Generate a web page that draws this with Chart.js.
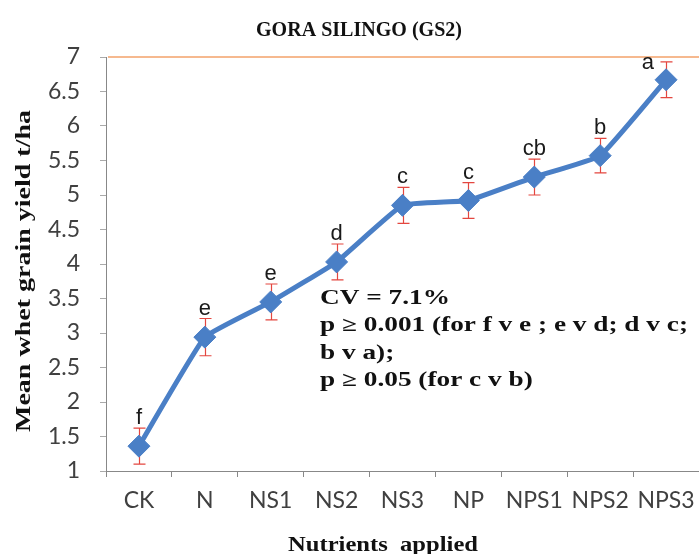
<!DOCTYPE html>
<html>
<head>
<meta charset="utf-8">
<script src="https://cdn.jsdelivr.net/npm/chart.js@4/dist/chart.umd.min.js"></script>
<style>
html,body{margin:0;padding:0;background:#fff;}
#wrap{width:699px;height:554px;position:relative;}
</style>
</head>
<body>
<div id="wrap"><canvas id="c" width="699" height="554"></canvas></div>
<script>
const categories = ['CK','N','NS1','NS2','NS3','NP','NPS1','NPS2','NPS3'];
const meanYield = [1.36, 2.94, 3.45, 4.03, 4.85, 4.92, 5.26, 5.57, 6.67];
const errHalf = [0.26, 0.27, 0.26, 0.26, 0.26, 0.26, 0.26, 0.25, 0.26];
const groupLetters = ['f','e','e','d','c','c','cb','b','a'];
const yMin = 1, yMax = 7, yStep = 0.5;
const chartTitle = 'GORA SILINGO (GS2)';
const xTitle = 'Nutrients  applied';
const yTitle = 'Mean whet grain yield t/ha';
const noteLines = ['CV = 7.1%', 'p \u2265 0.001 (for f v e ; e v d; d v c;', 'b v a);', 'p \u2265 0.05 (for c v b)'];

const serif = '"Liberation Serif", "Times New Roman", serif';
const sans = 'Lato, "Open Sans", sans-serif';
const letterFont = '"Liberation Sans", Arial, sans-serif';

function fitText(ctx, text, x, y, targetWidth) {
  const w = ctx.measureText(text).width;
  const s = targetWidth / w;
  ctx.save();
  ctx.translate(x, y);
  ctx.scale(s, 1);
  ctx.fillText(text, 0, 0);
  ctx.restore();
  return s;
}

const overlay = {
  id: 'overlay',
  beforeDatasetsDraw(chart) {
    const ctx = chart.ctx;
    const a = chart.chartArea;
    const xs = chart.scales.x, ys = chart.scales.y;
    ctx.save();
    ctx.strokeStyle = '#f6b98f';
    ctx.lineWidth = 2;
    const y = ys.getPixelForValue(yMax);
    ctx.beginPath();
    ctx.moveTo(a.left + 2, y); ctx.lineTo(a.right, y);
    ctx.stroke();
    // error bars (under the markers)
    ctx.strokeStyle = '#e4463f';
    ctx.lineWidth = 1.2;
    meanYield.forEach((v, i) => {
      const x = Math.round(xs.getPixelForValue(i)) + 0.5;
      const yt = ys.getPixelForValue(v + errHalf[i]);
      const yb = ys.getPixelForValue(v - errHalf[i]);
      ctx.beginPath();
      ctx.moveTo(x, yt); ctx.lineTo(x, yb);
      ctx.moveTo(x - 6, yt); ctx.lineTo(x + 6, yt);
      ctx.moveTo(x - 6, yb); ctx.lineTo(x + 6, yb);
      ctx.stroke();
    });
    ctx.restore();
  },
  afterDatasetsDraw(chart) {
    const ctx = chart.ctx;
    const xs = chart.scales.x, ys = chart.scales.y;
    ctx.save();
    // letters
    ctx.fillStyle = '#1a1a1a';
    ctx.font = '22px ' + letterFont;
    ctx.textBaseline = 'alphabetic';
    meanYield.forEach((v, i) => {
      const x = xs.getPixelForValue(i);
      const yt = ys.getPixelForValue(v + errHalf[i]);
      if (i === meanYield.length - 1) {
        ctx.textAlign = 'right';
        ctx.fillText(groupLetters[i], x - 12, yt + 7);
      } else {
        ctx.textAlign = 'center';
        ctx.fillText(groupLetters[i], x, yt - 4);
      }
    });
    // annotation
    ctx.font = 'bold 20px ' + serif;
    ctx.textAlign = 'left';
    ctx.fillStyle = '#111';
    const sc = 368 / ctx.measureText(noteLines[1]).width;
    noteLines.forEach((t, k) => {
      ctx.save();
      ctx.translate(320, 304 + k * 27.3);
      ctx.scale(sc, 1);
      ctx.fillText(t, 0, 0);
      ctx.restore();
    });
    // titles
    ctx.font = 'bold 20.5px ' + serif;
    ctx.textAlign = 'left';
    fitText(ctx, chartTitle, 256, 36, 206);
    ctx.font = 'bold 22px ' + serif;
    fitText(ctx, xTitle, 288, 551, 190);
    ctx.translate(30, 432);
    ctx.rotate(-Math.PI / 2);
    ctx.font = 'bold 21px ' + serif;
    fitText(ctx, yTitle, 0, 0, 322);
    ctx.restore();
  }
};

new Chart(document.getElementById('c'), {
  type: 'line',
  data: {
    labels: categories,
    datasets: [{
      data: meanYield,
      borderColor: '#4a7fc6',
      backgroundColor: '#4a7fc6',
      borderWidth: 5,
      pointStyle: 'rectRot',
      pointRadius: 11,
      pointHoverRadius: 11,
      pointBackgroundColor: '#4a7fc6',
      pointBorderColor: '#4a7fc6',
      pointBorderWidth: 1,
      tension: 0.1,
      clip: false
    }]
  },
  options: {
    responsive: false,
    animation: false,
    devicePixelRatio: 1,
    layout: { autoPadding: false, padding: { top: 57, right: 0, left: 0, bottom: 0 } },
    plugins: { legend: { display: false }, tooltip: { enabled: false }, title: { display: false } },
    scales: {
      x: {
        type: 'category',
        offset: true,
        grid: { display: true, drawOnChartArea: false, drawTicks: true, tickLength: 6, color: '#888', offset: true },
        border: { display: true, color: '#888', width: 1 },
        ticks: { color: '#404040', font: { family: sans, size: 23 }, padding: 10, maxRotation: 0, autoSkip: false },
        afterFit(s) { s.height = 83; s.paddingRight = 0; s.paddingLeft = 0; }
      },
      y: {
        min: yMin, max: yMax,
        grid: { display: true, drawOnChartArea: false, drawTicks: true, tickLength: 6, color: '#aaa' },
        border: { display: true, color: '#888', width: 1 },
        ticks: { stepSize: yStep, color: '#404040', font: { family: sans, size: 23 }, padding: 20,
          callback: v => String(v) },
        afterFit(s) { s.width = 106; s.paddingTop = 0; s.paddingBottom = 0; }
      }
    }
  },
  plugins: [overlay]
});
</script>
</body>
</html>
